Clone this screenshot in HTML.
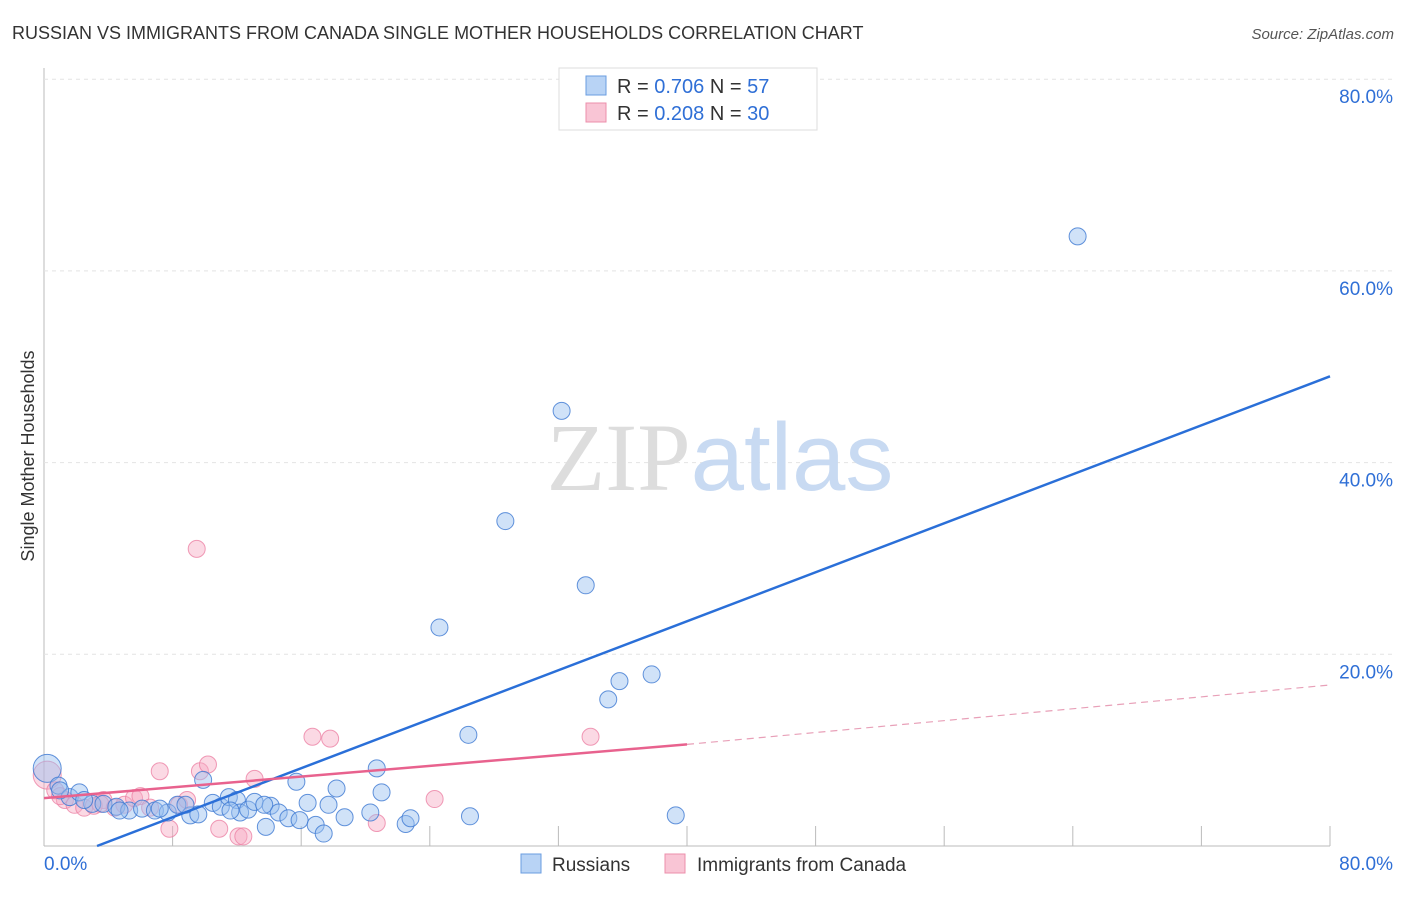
<!DOCTYPE html>
<html><head><meta charset="utf-8"><style>
body{margin:0;background:#fff;font-family:"Liberation Sans",sans-serif;}
svg text{font-family:"Liberation Sans",sans-serif;}
</style></head><body>
<svg id="chart" width="1406" height="892" xmlns="http://www.w3.org/2000/svg">
<text x="12" y="39" font-size="18" fill="#333">RUSSIAN VS IMMIGRANTS FROM CANADA SINGLE MOTHER HOUSEHOLDS CORRELATION CHART</text>
<text x="1394" y="39" font-size="15" fill="#555" text-anchor="end" font-style="italic">Source: ZipAtlas.com</text>
<text transform="translate(34,456) rotate(-90)" font-size="18" fill="#333" text-anchor="middle">Single Mother Households</text>
<g id="grid"></g>
<text x="720" y="490" font-size="96" text-anchor="middle"><tspan fill="#ddd" font-family="Liberation Serif">ZIP</tspan><tspan fill="#c8daf2">atlas</tspan></text>
<g id="marks"></g>
<g>
<rect x="559" y="68" width="258" height="62" fill="#fff" stroke="#ddd"/>
<rect x="586" y="76" width="20" height="19" fill="#b8d3f5" stroke="#6a9de0"/>
<rect x="586" y="103" width="20" height="19" fill="#f9c5d5" stroke="#ec8fab"/>
<text x="617" y="93" font-size="20" fill="#333">R = <tspan fill="#2f6fd6">0.706</tspan>   N = <tspan fill="#2f6fd6">57</tspan></text>
<text x="617" y="120" font-size="20" fill="#333">R = <tspan fill="#2f6fd6">0.208</tspan>   N = <tspan fill="#2f6fd6">30</tspan></text>
</g>
<g>
<rect x="521" y="854" width="20" height="19" fill="#b8d3f5" stroke="#6a9de0"/>
<text x="552" y="871" font-size="19" fill="#333">Russians</text>
<rect x="665" y="854" width="20" height="19" fill="#f9c5d5" stroke="#ec8fab"/>
<text x="697" y="871" font-size="19" fill="#333">Immigrants from Canada</text>
</g>
</svg>
<script>
const xTicks=[0,8,16,24,32,40,48,56,64,72,80];
const yTicks=[20,40,60,80];
const blueX=[0.2,0.9,1.6,2.2,3.0,3.7,4.5,5.3,6.1,6.9,7.7,8.3,9.1,9.6,9.9,10.5,11.0,11.5,12.0,12.2,12.7,13.1,13.8,14.1,14.6,15.2,15.7,15.9,16.4,16.9,17.4,17.7,18.2,18.7,20.3,20.7,21.0,22.5,22.8,24.6,26.4,26.5,28.7,32.2,33.7,35.1,35.8,37.8,39.3,64.3,1.0,2.5,4.7,7.2,8.8,11.6,13.7];
const blueY=[8.1,6.3,5.1,5.6,4.4,4.4,4.1,3.7,3.9,3.7,3.5,4.3,3.2,3.3,6.9,4.5,4.1,5.1,4.8,3.5,3.8,4.6,2.0,4.2,3.5,2.9,6.7,2.7,4.5,2.2,1.3,4.3,6.0,3.0,3.5,8.1,5.6,2.3,2.9,22.8,11.6,3.1,33.9,45.4,27.2,15.3,17.2,17.9,3.2,63.6,5.8,4.8,3.7,3.9,4.3,3.7,4.3];
const pinkX=[0.2,0.7,1.3,1.9,2.5,3.1,3.7,4.4,5.0,5.6,6.0,6.6,7.2,7.8,8.4,8.9,9.5,9.7,10.2,10.9,12.1,12.4,13.1,16.7,17.8,20.7,24.3,34.0,3.5,1.0];
const pinkY=[7.4,5.8,4.8,4.3,4.0,4.2,4.8,4.0,4.3,5.0,5.2,4.0,7.8,1.8,4.3,4.8,31.0,7.8,8.5,1.8,1.0,1.0,7.0,11.4,11.2,2.4,4.9,11.4,4.4,5.2];
const blueLine=[[3.3,0],[80,49.0]];
const pinkLine=[[0,5.0],[40,10.6],[80,16.8]];
const sx=v=>44+v/80*1286, sy=v=>846-v/20*191.7;
const NS='http://www.w3.org/2000/svg';
const g=document.getElementById('grid'), m=document.getElementById('marks');
function mk(tag,at,par){const e=document.createElementNS(NS,tag);for(const k in at)e.setAttribute(k,at[k]);par.appendChild(e);return e;}
let ax=mk('line',{x1:44,y1:68,x2:44,y2:846,stroke:'#bbb'},g);


let bx=mk('line',{x1:44,y1:846,x2:1330,y2:846,stroke:'#bbb'},g);


yTicks.forEach(v=>{
 let l=mk('line',{x1:44,x2:1394,y1:sy(v),y2:sy(v),stroke:'#e4e4e4','stroke-dasharray':'4,4'},g);
 
 
 let t=mk('text',{x:1393,y:sy(v)+24,'font-size':19,fill:'#2f6fd6','text-anchor':'end'},g);t.textContent=v.toFixed(1)+'%';
 
 
});
xTicks.forEach((v,i)=>{if(i==0)return;
 let l=mk('line',{x1:sx(v),x2:sx(v),y1:826,y2:846,stroke:'#bbb'},g);
 
 
});
[[0,44,'start'],[80,1393,'end']].forEach(a=>{let t=mk('text',{x:a[1],y:870,'font-size':19,fill:'#2f6fd6','text-anchor':a[2]},g);t.textContent=a[0].toFixed(1)+'%';
 
 });
pinkX.forEach((x,i)=>{let c=mk('circle',{cx:sx(x),cy:sy(pinkY[i]),r:i==0?14:8.5,fill:'rgba(246,170,195,0.45)',stroke:'rgba(236,130,165,0.8)','stroke-width':1},m);
 
 });
blueX.forEach((x,i)=>{let c=mk('circle',{cx:sx(x),cy:sy(blueY[i]),r:i==0?14:8.5,fill:'rgba(150,190,240,0.45)',stroke:'rgba(60,120,210,0.8)','stroke-width':1},m);
 
 });
let bl=mk('line',{x1:sx(blueLine[0][0]),y1:sy(blueLine[0][1]),x2:sx(blueLine[1][0]),y2:sy(blueLine[1][1]),stroke:'#2a6fd8','stroke-width':2.5},m);


let pl=mk('line',{x1:sx(pinkLine[0][0]),y1:sy(pinkLine[0][1]),x2:sx(pinkLine[1][0]),y2:sy(pinkLine[1][1]),stroke:'#e8628e','stroke-width':2.5},m);


let pd=mk('line',{x1:sx(pinkLine[1][0]),y1:sy(pinkLine[1][1]),x2:sx(pinkLine[2][0]),y2:sy(pinkLine[2][1]),stroke:'#e8a0b8','stroke-width':1.2,'stroke-dasharray':'7,5'},m);


</script>
</body></html>
